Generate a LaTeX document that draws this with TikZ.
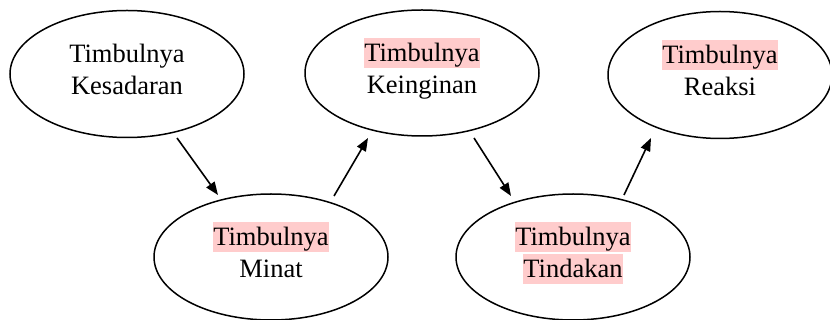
\documentclass[tikz,border=0pt]{standalone}
\usepackage{fontspec}
\setmainfont{Liberation Serif}
\usetikzlibrary{shapes.geometric,arrows.meta,calc}
\definecolor{hlpink}{RGB}{255,204,204}
\newcommand{\hlt}[1]{{\setlength{\fboxsep}{0pt}\colorbox{hlpink}{\rule[-6pt]{0pt}{30pt}#1}}}
\newcommand{\lst}{\rule[-6pt]{0pt}{30pt}}
\newcommand{\ldp}{\rule[-14pt]{0pt}{0pt}}
\begin{document}
\begin{tikzpicture}[x=1pt,y=-1pt,
  oval/.style={draw,ellipse,line width=1.5pt,inner sep=0pt,align=center,
    node font=\fontsize{26.5}{32}\selectfont},
  arr/.style={line width=1.6pt,-{Triangle[length=13pt,width=10pt]}}]
\useasboundingbox (0,0) rectangle (830,320);
\node[oval,minimum width=234pt,minimum height=127pt] (k1) at (127,74) {\lst Timbulnya\\ Kesadaran\ldp};
\node[oval,minimum width=234pt,minimum height=126pt] (k2) at (422,73) {\hlt{Timbulnya}\\ Keinginan\ldp};
\node[oval,minimum width=224pt,minimum height=127pt] (k3) at (720,75) {\hlt{Timbulnya}\\ Reaksi\ldp};
\node[oval,minimum width=234pt,minimum height=126pt] (k4) at (271,257) {\hlt{Timbulnya}\\ Minat\ldp};
\node[oval,minimum width=234pt,minimum height=126pt] (k5) at (573,257) {\hlt{Timbulnya}\\ \hlt{Tindakan}\ldp};
\draw[arr] ($(k1.center)+(50,64)$) -- ($(k4.center)+(-53,-62)$);
\draw[arr] ($(k4.center)+(63,-61)$) -- ($(k2.center)+(-54,65)$);
\draw[arr] ($(k2.center)+(52,65)$) -- ($(k5.center)+(-62,-61)$);
\draw[arr] ($(k5.center)+(51,-62)$) -- ($(k3.center)+(-69,63)$);
\end{tikzpicture}
\end{document}
